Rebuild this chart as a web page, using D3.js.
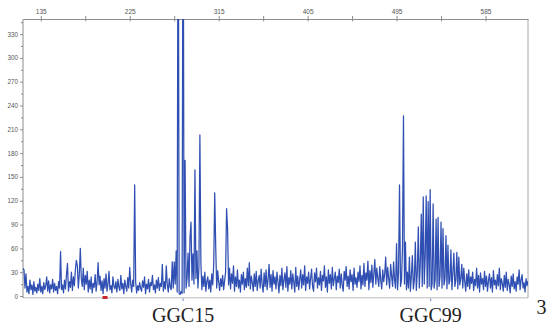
<!DOCTYPE html>
<html>
<head>
<meta charset="utf-8">
<script src="https://cdn.jsdelivr.net/npm/d3@7"></script>
<style>
  body { margin: 0; background: #fff; }
  svg { display: block; }
</style>
</head>
<body>
<div class="trace-canvas"></div>
<script>
// fragment size (bp) of the first sample, one sample per bp
let sizeStart = 117;
let sizeEnd = 628;

// RFU values, rows of 20 samples
let rfu = [
  35, 33, 10, 28, 5, 12, 3, 20, 8, 14, 2, 18, 6, 11, 4, 15, 7, 22, 5, 12,        // 117
  3, 17, 8, 13, 24, 6, 19, 4, 14, 9, 21, 5, 16, 7, 12, 3, 18, 10, 56, 8,         // 137
  14, 4, 20, 9, 27, 41, 6, 18, 11, 30, 7, 24, 13, 33, 45, 38, 10, 28, 60, 22,    // 157
  12, 35, 8, 26, 15, 31, 5, 20, 9, 24, 4, 16, 11, 27, 6, 18, 42, 14, 25, 7,      // 177
  19, 3, 22, 10, 28, 6, 15, 31, 8, 13, 4, 24, 12, 9, 18, 5, 21, 11, 7, 26,       // 197
  9, 16, 3, 20, 12, 6, 23, 10, 36, 15, 5, 20, 12, 140, 18, 4, 13, 7, 17, 10,     // 217
  6, 19, 11, 24, 3, 15, 9, 21, 5, 17, 13, 26, 8, 14, 4, 20, 10, 23, 7, 16,       // 237
  12, 40, 6, 18, 9, 38, 14, 5, 22, 11, 8, 43, 10, 43, 15, 57, 5, 600, 3, 2,      // 257
  6, 3, 600, 4, 171, 10, 22, 54, 12, 74, 93, 20, 53, 15, 159, 22, 57, 10, 35, 203, // 277
  42, 8, 25, 12, 30, 6, 18, 24, 9, 20, 5, 28, 14, 40, 130, 62, 10, 32, 18, 7,    // 297
  22, 12, 26, 8, 19, 30, 110, 85, 14, 35, 9, 28, 16, 38, 6, 24, 12, 33, 10, 20,  // 317
  5, 27, 15, 30, 8, 22, 11, 35, 13, 42, 9, 25, 17, 6, 28, 12, 31, 7, 19, 26,     // 337
  10, 34, 14, 5, 29, 12, 33, 8, 21, 40, 11, 27, 6, 32, 15, 24, 9, 30, 18, 4,     // 357
  26, 13, 35, 8, 20, 29, 11, 37, 6, 23, 15, 32, 9, 28, 17, 5, 36, 12, 25, 8,     // 377
  21, 33, 10, 27, 14, 38, 7, 24, 16, 30, 9, 22, 34, 12, 6, 29, 18, 35, 10, 23,   // 397
  14, 31, 7, 26, 19, 38, 11, 24, 5, 33, 16, 27, 9, 36, 13, 22, 30, 8, 25, 17,    // 417
  34, 10, 28, 14, 6, 31, 20, 37, 12, 25, 9, 33, 18, 27, 7, 35, 15, 23, 11, 30,   // 437
  18, 38, 9, 26, 14, 41, 12, 29, 20, 44, 8, 32, 17, 39, 11, 28, 46, 15, 35, 22,  // 457
  12, 37, 20, 9, 33, 18, 28, 49, 14, 36, 22, 10, 40, 25, 12, 43, 20, 10, 66, 8,  // 477
  30, 140, 12, 20, 60, 227, 15, 68, 8, 30, 10, 49, 6, 25, 51, 9, 20, 68, 7, 30,  // 497
  87, 10, 40, 103, 12, 125, 15, 50, 126, 10, 119, 12, 134, 8, 15, 116, 10, 20, 97, 8, // 517
  99, 12, 25, 93, 10, 85, 14, 22, 76, 9, 64, 15, 20, 58, 8, 30, 54, 12, 20, 55,  // 537
  9, 49, 14, 22, 40, 10, 35, 18, 6, 28, 12, 33, 9, 24, 16, 30, 7, 21, 13, 35,    // 557
  10, 26, 5, 29, 15, 22, 8, 31, 12, 25, 6, 19, 28, 10, 23, 5, 32, 14, 20, 9,     // 577
  27, 13, 35, 8, 22, 16, 6, 26, 11, 30, 7, 21, 14, 4, 25, 12, 28, 9, 18, 6,      // 597
  24, 15, 33, 8, 20, 27, 10, 17, 5, 22, 13, 19                                   // 617
];

let sizeTicks = [135, 225, 315, 405, 495, 585];
let sizeMinorTicks = [180, 270, 360, 450, 540];
let rfuTicks = [0, 30, 60, 90, 120, 150, 180, 210, 240, 270, 300, 330];
let rfuMinorTicks = [15, 45, 75, 105, 135, 165, 195, 225, 255, 285, 315, 345];
let rfuMax = 349;

let alleleNames = ["GGC15", "GGC99"];
let alleleSizes = [279, 529.5];
let markerSizes = [200];
let panelLabel = "3";

let width = 548;
let height = 325;
let plotLeft = 23, plotRight = 528, plotTop = 19, plotBottom = 296;

let svg = d3.select(".trace-canvas")
  .append("svg")
  .attr("width", width)
  .attr("height", height)
  .attr("viewBox", [0, 0, width, height]);

let x = d3.scaleLinear()
  .domain([sizeStart, sizeEnd])
  .range([plotLeft, plotRight]);

let y = d3.scaleLinear()
  .domain([0, rfuMax])
  .range([plotBottom, plotTop]);

let points = rfu.map((v, i) => ({ size: sizeStart + i, value: v }));

let axisColor = "#8c8c8c";
let labelColor = "#555";

// frame: right edge and bottom line
svg.append("line")
  .attr("x1", plotRight).attr("x2", plotRight)
  .attr("y1", plotTop).attr("y2", plotBottom + 2)
  .attr("stroke", "#a8a8a8");

svg.append("line")
  .attr("x1", plotLeft).attr("x2", plotRight)
  .attr("y1", plotBottom + 1.8).attr("y2", plotBottom + 1.8)
  .attr("stroke", "#b8b8b8");

// top size axis
let xAxis = g => g
  .attr("transform", `translate(0,${plotTop})`)
  .call(d3.axisTop(x)
    .tickValues(sizeTicks)
    .tickSizeInner(3)
    .tickSizeOuter(0)
    .tickPadding(2.5)
    .tickFormat(d3.format("d")))
  .call(g => g.selectAll(".tick line").attr("y1", 2.5))
  .call(g => g.selectAll("text")
    .attr("font-family", "Liberation Sans, Arial, sans-serif")
    .attr("font-size", 6.5)
    .attr("fill", labelColor));

let xMinor = g => g
  .attr("transform", `translate(0,${plotTop})`)
  .call(d3.axisTop(x)
    .tickValues(sizeMinorTicks)
    .tickSizeInner(3)
    .tickSizeOuter(0)
    .tickFormat(""))
  .call(g => g.select(".domain").remove())
  .call(g => g.selectAll(".tick line").attr("y1", 2.5));

// left rfu axis
let yAxis = g => g
  .attr("transform", `translate(${plotLeft},0)`)
  .call(d3.axisLeft(y)
    .tickValues(rfuTicks)
    .tickSizeInner(3)
    .tickSizeOuter(0)
    .tickPadding(2)
    .tickFormat(d3.format("d")))
  .call(g => g.select(".domain").attr("d", `M0,${plotTop}V${plotBottom + 2}`))
  .call(g => g.selectAll("text")
    .attr("font-family", "Liberation Sans, Arial, sans-serif")
    .attr("font-size", 6.3)
    .attr("fill", labelColor));

let yMinor = g => g
  .attr("transform", `translate(${plotLeft},0)`)
  .call(d3.axisLeft(y)
    .tickValues(rfuMinorTicks)
    .tickSizeInner(2)
    .tickSizeOuter(0)
    .tickFormat(""))
  .call(g => g.select(".domain").remove());

[xAxis, xMinor, yAxis, yMinor].forEach(a => {
  svg.append("g")
    .call(a)
    .call(g => g.selectAll("line, path").attr("stroke", axisColor));
});

// the trace, clipped to the plot box
svg.append("clipPath")
  .attr("id", "plot-clip")
  .append("rect")
  .attr("x", plotLeft)
  .attr("y", plotTop)
  .attr("width", plotRight - plotLeft)
  .attr("height", plotBottom - plotTop + 1);

let line = d3.line()
  .x(d => x(d.size))
  .y(d => y(d.value));

svg.append("path")
  .datum(points)
  .attr("clip-path", "url(#plot-clip)")
  .attr("fill", "none")
  .attr("stroke", "#2f4fb2")
  .attr("stroke-width", 1.25)
  .attr("stroke-linejoin", "round")
  .attr("d", line);

// red bin marker on the baseline
svg.append("g")
  .selectAll("rect")
  .data(markerSizes)
  .join("rect")
  .attr("x", d => x(d) - 2.5)
  .attr("y", plotBottom)
  .attr("width", 5)
  .attr("height", 3)
  .attr("fill", "#c8262a");

// allele ticks and names below the baseline
svg.append("g")
  .selectAll("line")
  .data(alleleSizes)
  .join("line")
  .attr("x1", d => x(d)).attr("x2", d => x(d))
  .attr("y1", plotBottom + 2.5).attr("y2", plotBottom + 5)
  .attr("stroke", "#6c80c4");

svg.append("g")
  .selectAll("text")
  .data(alleleNames)
  .join("text")
  .attr("x", (d, i) => x(alleleSizes[i]))
  .attr("y", 321.5)
  .attr("text-anchor", "middle")
  .attr("font-family", "Liberation Serif, Times New Roman, serif")
  .attr("font-size", 20)
  .attr("fill", "#222")
  .text(d => d);

svg.append("text")
  .attr("x", 536.5)
  .attr("y", 313.5)
  .attr("font-family", "Liberation Serif, Times New Roman, serif")
  .attr("font-size", 20)
  .attr("fill", "#222")
  .text(panelLabel);
</script>
</body>
</html>
